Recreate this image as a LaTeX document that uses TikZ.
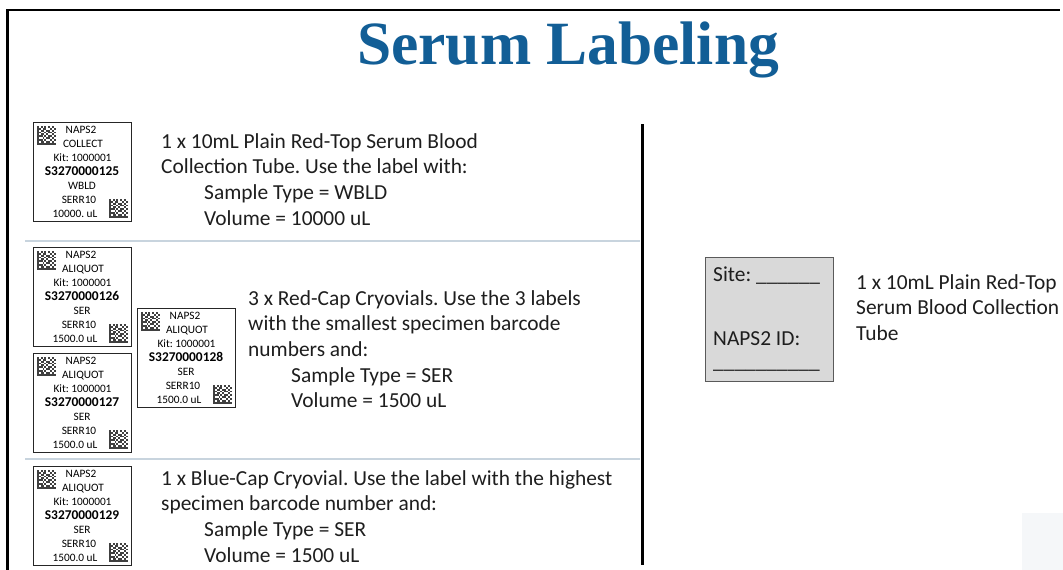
\documentclass[tikz,border=0pt]{standalone}
\usepackage{fontspec}
\setmainfont{Carlito}
\newfontfamily\titlefont{Liberation Serif}
\usetikzlibrary{calc}
\frenchspacing
\definecolor{titleblue}{RGB}{18,94,150}
\definecolor{sepline}{RGB}{200,212,222}
\definecolor{boxgray}{RGB}{217,217,217}
\definecolor{boxedge}{RGB}{90,90,90}
\definecolor{faint}{RGB}{245,247,249}
\definecolor{ink}{RGB}{30,30,30}

\tikzset{
 dmx/.pic={
   \fill[black!75] (0,0) rectangle (1.85,18.5);
   \fill[black!75] (0,16.65) rectangle (18.5,18.5);
   \foreach \i/\j in {0/0,2/0,4/0,6/0,8/0,9/1,9/3,9/5,9/7,
     1/1,3/1,4/1,7/1,2/2,3/2,5/2,6/2,8/2,1/3,4/3,6/3,7/3,
     2/4,3/4,5/4,8/4,1/5,2/5,4/5,6/5,7/5,3/6,5/6,6/6,8/6,
     1/7,2/7,4/7,7/7,2/8,3/8,5/8,6/8,8/8}
     {\fill[black!75] (\i*1.85,\j*1.85) rectangle ++(1.85,1.85);}
 },
 lblbox/.style={draw=black!85, line width=0.9pt, minimum width=98pt, minimum height=99pt, inner sep=0pt, fill=white},
 lbltxt/.style={inner sep=0pt, font=\fontsize{11.3}{13}\selectfont, anchor=base},
 lblcode/.style={inner sep=0pt, font=\bfseries\fontsize{13.4}{15}\selectfont, anchor=base},
 bodytext/.style={inner sep=0pt, anchor=north west, align=left, text=ink, font=\fontsize{21.4}{25.6}\selectfont},
 sepstyle/.style={draw=sepline, line width=1.2pt},
}

\newcommand\specLabelBox[6]{%
  \node[lblbox, anchor=north west] (#1) at (#2) {};
  \pic at ($(#1.north west)+(4,4)$) {dmx};
  \pic at ($(#1.north west)+(76,77)$) {dmx};
  \node[lbltxt] (#1-a) at ($(#1.north west)+(48,11.5)$) {NAPS2};
  \node[lbltxt] (#1-b) at ($(#1.north west)+(50,25.5)$) {#3};
  \node[lbltxt] (#1-c) at ($(#1.north west)+(49.5,39.5)$) {Kit: 1000001};
  \node[lblcode] (#1-d) at ($(#1.north west)+(49,53.5)$) {#4};
  \node[lbltxt] (#1-e) at ($(#1.north west)+(49,67.5)$) {#5};
  \node[lbltxt] (#1-f) at ($(#1.north west)+(46,81.5)$) {SERR10};
  \node[lbltxt] (#1-g) at ($(#1.north west)+(42,95.5)$) {#6};
}

\begin{document}
\begin{tikzpicture}[x=1pt,y=-1pt]
\useasboundingbox (0,0) rectangle (1063,570);
\fill[white] (0,0) rectangle (1063,570);

% frame
\draw[line width=2.2pt, black] (7.5,570) -- (7.5,10) -- (1060,10);

% title
\node[anchor=base, inner sep=0pt, text=titleblue] (title) at (568,64)
  {\titlefont\bfseries\fontsize{61.5}{62}\selectfont Serum Labeling};

% divider
\draw[line width=3pt, black] (642,124) -- (642,565);

% separators
\draw[sepstyle] (25,241) -- (640,241);
\draw[sepstyle] (25,459) -- (640,459);

% labels
\specLabelBox{lab1}{33,122}{COLLECT}{S3270000125}{WBLD}{10000. uL}
\specLabelBox{lab2}{33,247}{ALIQUOT}{S3270000126}{SER}{1500.0 uL}
\specLabelBox{lab3}{33,353}{ALIQUOT}{S3270000127}{SER}{1500.0 uL}
\specLabelBox{lab4}{137,308}{ALIQUOT}{S3270000128}{SER}{1500.0 uL}
\specLabelBox{lab5}{33,466}{ALIQUOT}{S3270000129}{SER}{1500.0 uL}

% body texts
\node[bodytext] (t1) at (161,130.1) {\strut 1 x 10mL Plain Red-Top Serum Blood\\
  Collection Tube. Use the label with:\\
  \hspace*{43pt}Sample Type = WBLD\\
  \hspace*{43pt}Volume = 10000 uL};
\node[bodytext] (t2) at (248,287.1) {\strut 3 x Red-Cap Cryovials. Use the 3 labels\\
  with the smallest specimen barcode\\
  numbers and:\\
  \hspace*{43pt}Sample Type = SER\\
  \hspace*{43pt}Volume = 1500 uL};
\node[bodytext] (t3) at (161,467.1) {\strut 1 x Blue-Cap Cryovial. Use the label with the highest\\
  specimen barcode number and:\\
  \hspace*{43pt}Sample Type = SER\\
  \hspace*{43pt}Volume = 1500 uL};

% right gray tube label
\node[draw=boxedge, fill=boxgray, line width=1pt, anchor=north west, minimum width=128pt, minimum height=124pt, inner sep=0pt] (tube) at (705,257) {};
\node[anchor=base west, inner sep=0pt, text=ink, font=\fontsize{21.4}{25.6}\selectfont] (site) at (713,281) {Site: \_\_\_\_\_\_};
\node[anchor=base west, inner sep=0pt, text=ink, font=\fontsize{21.4}{25.6}\selectfont] (napsid) at (713,345) {NAPS2 ID:};
\node[anchor=base west, inner sep=0pt, text=ink, font=\fontsize{21.4}{25.6}\selectfont] (idline) at (713,368) {\_\_\_\_\_\_\_\_\_\_};

\node[bodytext] (t4) at (856,271.1) {\strut 1 x 10mL Plain Red-Top\\
  Serum Blood Collection\\
  Tube};

% faint corner patch
\fill[faint] (1022,513) rectangle (1063,570);
\end{tikzpicture}
\end{document}
